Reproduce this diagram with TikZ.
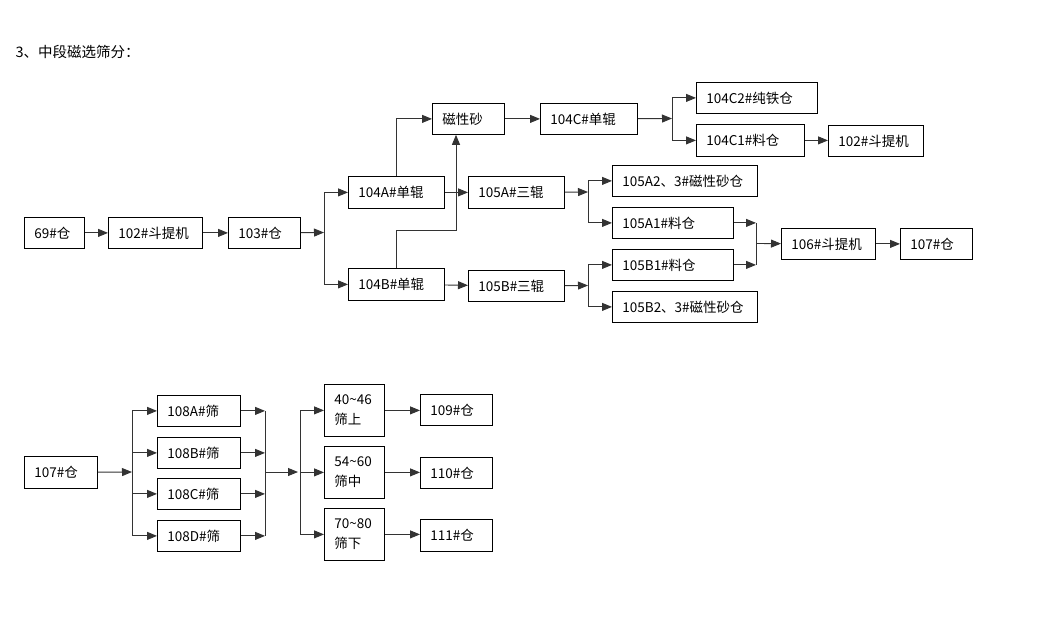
\documentclass[tikz,border=0pt]{standalone}
\usepackage{fontspec}
\setmainfont{Noto Sans CJK SC}
\usetikzlibrary{arrows.meta}
\usetikzlibrary{positioning}

\tikzset{
  blk/.style={draw,line width=0.8pt,anchor=north west,inner xsep=10pt,inner ysep=0pt,
    minimum height=31pt,align=left,font=\fontsize{13.5}{20}\selectfont},
  arr/.style={draw=black!80,line width=0.9pt,-{Triangle[length=10pt,width=8pt]}},
  ln/.style={draw=black!80,line width=0.9pt}
}

\begin{document}
\begin{tikzpicture}[x=1pt,y=-1pt]
        \useasboundingbox (0,0) rectangle (1061,635);

        \node[anchor=west,font=\fontsize{14.5}{16}\selectfont] (title) at (12,52) {3、中段磁选筛分：};

        % upper flow
        \node[blk,text width=40] (c69) at (24,217) {69\#仓};
        \node[blk,text width=74] (e102) at (108,217) {102\#斗提机};
        \node[blk,text width=52] (c103) at (228,217) {103\#仓};
        \node[blk,text width=76,minimum height=32pt] (r104a) at (348,176) {104A\#单辊};
        \node[blk,text width=76,minimum height=32pt] (r104b) at (348,268) {104B\#单辊};
        \node[blk,text width=52] (cxs) at (432,103) {磁性砂};
        \node[blk,text width=77] (r104c) at (540,103) {104C\#单辊};
        \node[blk,text width=101] (c104c2) at (696,82) {104C2\#纯铁仓};
        \node[blk,text width=88,minimum height=32pt] (c104c1) at (696,124) {104C1\#料仓};
        \node[blk,text width=75] (e102b) at (828,125) {102\#斗提机};
        \node[blk,text width=76,minimum height=32pt] (r105a) at (468,176) {105A\#三辊};
        \node[blk,text width=76] (r105b) at (468,270) {105B\#三辊};
        \node[blk,text width=125] (c105a2) at (612,165) {105A2、3\#磁性砂仓};
        \node[blk,text width=101] (c105a1) at (612,207) {105A1\#料仓};
        \node[blk,text width=101] (c105b1) at (612,249) {105B1\#料仓};
        \node[blk,text width=125] (c105b2) at (612,291) {105B2、3\#磁性砂仓};
        \node[blk,text width=74] (e106) at (781,228) {106\#斗提机};
        \node[blk,text width=52] (c107) at (900,228) {107\#仓};

        \coordinate (s1) at (324,232.5);
        \coordinate (s2) at (672,118.5);
        \coordinate (s3) at (588,192);
        \coordinate (s4) at (588,285.5);
        \coordinate (m1) at (756,243.5);
        \coordinate (j1) at (456,230);

        \draw[arr] (c69) -- (e102);
        \draw[arr] (e102) -- (c103);
        \draw[arr] (c103) -- (s1);
        \draw[ln] (s1 |- r104a) -- (s1 |- r104b);
        \draw[arr] (s1 |- r104a) -- (r104a);
        \draw[arr] (s1 |- r104b) -- (r104b);

        \draw[arr] (r104a.north) |- (cxs.west);
        \draw[arr] (r104b.north) |- (j1) -- (j1 |- cxs.south);
        \draw[arr] (cxs) -- (r104c);
        \draw[arr] (r104c) -- (s2);
        \draw[ln] (s2 |- c104c2) -- (s2 |- c104c1);
        \draw[arr] (s2 |- c104c2) -- (c104c2);
        \draw[arr] (s2 |- c104c1) -- (c104c1);
        \draw[arr] (c104c1) -- (c104c1 -| e102b.west);

        \draw[arr] (r104a) -- (r105a);
        \draw[arr] (r104b) -- (r105b);
        \draw[arr] (r105a) -- (s3);
        \draw[ln] (s3 |- c105a2) -- (s3 |- c105a1);
        \draw[arr] (s3 |- c105a2) -- (c105a2);
        \draw[arr] (s3 |- c105a1) -- (c105a1);
        \draw[arr] (r105b) -- (s4);
        \draw[ln] (s4 |- c105b1) -- (s4 |- c105b2);
        \draw[arr] (s4 |- c105b1) -- (c105b1);
        \draw[arr] (s4 |- c105b2) -- (c105b2);

        \draw[arr] (c105a1) -- (m1 |- c105a1);
        \draw[arr] (c105b1) -- (m1 |- c105b1);
        \draw[ln] (m1 |- c105a1) -- (m1 |- c105b1);
        \draw[arr] (m1) -- (e106);
        \draw[arr] (e106) -- (c107);

        % lower flow
        \node[blk,text width=53,minimum height=32pt] (d107) at (24,456) {107\#仓};
        \node[blk,text width=63] (s108a) at (157,395) {108A\#筛};
        \node[blk,text width=63] (s108b) at (157,437) {108B\#筛};
        \node[blk,text width=63] (s108c) at (157,478) {108C\#筛};
        \node[blk,text width=63] (s108d) at (157,520) {108D\#筛};
        \node[blk,text width=40,minimum height=52pt] (g40) at (324,384) {40\textasciitilde 46\\筛上};
        \node[blk,text width=40,minimum height=52pt] (g54) at (324,446) {54\textasciitilde 60\\筛中};
        \node[blk,text width=40,minimum height=52pt] (g70) at (324,508) {70\textasciitilde 80\\筛下};
        \node[blk,text width=52] (d109) at (420,394) {109\#仓};
        \node[blk,text width=52] (d110) at (420,457) {110\#仓};
        \node[blk,text width=52,minimum height=32pt] (d111) at (420,519) {111\#仓};

        \coordinate (s5) at (132,472);
        \coordinate (m2) at (265,472);
        \coordinate (s6) at (300,472);

        \draw[arr] (d107) -- (s5);
        \draw[ln] (s5 |- s108a) -- (s5 |- s108d);
        \foreach \k in {s108a,s108b,s108c,s108d}{
          \draw[arr] (s5 |- \k) -- (\k);
          \draw[arr] (\k) -- (m2 |- \k);
        }
        \draw[ln] (m2 |- s108a) -- (m2 |- s108d);
        \draw[arr,shorten >=2pt] (m2) -- (s6);
        \draw[ln] (s6 |- g40) -- (s6 |- g70);
        \draw[arr] (s6 |- g40) -- (g40);
        \draw[arr] (s6 |- g54) -- (g54);
        \draw[arr] (s6 |- g70) -- (g70);
        \draw[arr] (g40) -- (g40 -| d109.west);
        \draw[arr] (g54) -- (g54 -| d110.west);
        \draw[arr] (g70) -- (g70 -| d111.west);
    \end{tikzpicture}
\end{document}
